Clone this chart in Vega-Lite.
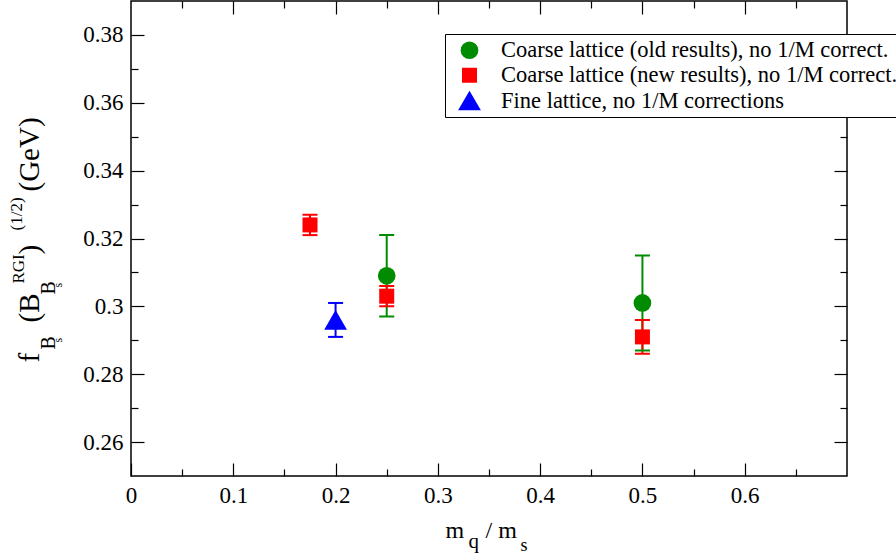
{
  "$schema": "https://vega.github.io/schema/vega-lite/v6.json",
  "width": 716,
  "height": 475,
  "autosize": {"type": "none"},
  "padding": {"left": 131, "top": 1, "right": 49, "bottom": 80},
  "background": "white",
  "data": {"values": [
    {"series": "Coarse lattice (old results), no 1/M correct.", "x": 0.25, "y": 0.309, "lo": 0.297, "hi": 0.321},
    {"series": "Coarse lattice (old results), no 1/M correct.", "x": 0.5, "y": 0.301, "lo": 0.287, "hi": 0.315},
    {"series": "Coarse lattice (new results), no 1/M correct.", "x": 0.175, "y": 0.324, "lo": 0.321, "hi": 0.327},
    {"series": "Coarse lattice (new results), no 1/M correct.", "x": 0.25, "y": 0.303, "lo": 0.300, "hi": 0.306},
    {"series": "Coarse lattice (new results), no 1/M correct.", "x": 0.5, "y": 0.291, "lo": 0.286, "hi": 0.296},
    {"series": "Fine lattice, no 1/M corrections", "x": 0.2, "y": 0.296, "lo": 0.291, "hi": 0.301}
  ]},
  "resolve": {"axis": {"x": "independent", "y": "independent"}},
  "layer": [
    {
      "mark": {"type": "rule", "strokeWidth": 2},
      "encoding": {
        "x": {"field": "x", "type": "quantitative", "scale": {"domain": [0, 0.7], "nice": false, "zero": false}, "axis": null},
        "y": {"field": "lo", "type": "quantitative", "scale": {"domain": [0.25, 0.39], "nice": false, "zero": false}, "axis": null},
        "y2": {"field": "hi"},
        "stroke": {"field": "series", "type": "nominal", "scale": {"domain": ["Fine lattice, no 1/M corrections", "Coarse lattice (new results), no 1/M correct.", "Coarse lattice (old results), no 1/M correct."], "range": ["#0000ff", "#ff0000", "#008b00"]}, "legend": null}
      }
    },
    {
      "mark": {"type": "tick", "orient": "horizontal", "size": 15, "thickness": 2, "opacity": 1},
      "encoding": {
        "x": {"field": "x", "type": "quantitative", "scale": {"domain": [0, 0.7], "nice": false, "zero": false}, "axis": null},
        "y": {"field": "lo", "type": "quantitative", "scale": {"domain": [0.25, 0.39], "nice": false, "zero": false}, "axis": null},
        "fill": {"field": "series", "type": "nominal", "scale": {"domain": ["Coarse lattice (new results), no 1/M correct.", "Fine lattice, no 1/M corrections", "Coarse lattice (old results), no 1/M correct."], "range": ["#ff0000", "#0000ff", "#008b00"]}, "legend": null}
      }
    },
    {
      "mark": {"type": "tick", "orient": "horizontal", "size": 15, "thickness": 2, "opacity": 1},
      "encoding": {
        "x": {"field": "x", "type": "quantitative", "scale": {"domain": [0, 0.7], "nice": false, "zero": false}, "axis": null},
        "y": {"field": "hi", "type": "quantitative", "scale": {"domain": [0.25, 0.39], "nice": false, "zero": false}, "axis": null},
        "fill": {"field": "series", "type": "nominal", "scale": {"domain": ["Coarse lattice (new results), no 1/M correct.", "Fine lattice, no 1/M corrections", "Coarse lattice (old results), no 1/M correct."], "range": ["#ff0000", "#0000ff", "#008b00"]}, "legend": null}
      }
    },
    {
      "mark": {"type": "point", "filled": true, "opacity": 1, "strokeWidth": 0},
      "encoding": {
        "x": {"field": "x", "type": "quantitative", "scale": {"domain": [0, 0.7], "nice": false, "zero": false}, "axis": null},
        "y": {"field": "y", "type": "quantitative", "scale": {"domain": [0.25, 0.39], "nice": false, "zero": false}, "axis": null},
        "color": {"field": "series", "type": "nominal", "scale": {"domain": ["Coarse lattice (old results), no 1/M correct.", "Coarse lattice (new results), no 1/M correct.", "Fine lattice, no 1/M corrections"], "range": ["#008b00", "#ff0000", "#0000ff"]},
                  "legend": {"orient": "none", "legendX": 314, "legendY": 33, "title": null}},
        "shape": {"field": "series", "type": "nominal", "scale": {"domain": ["Coarse lattice (old results), no 1/M correct.", "Coarse lattice (new results), no 1/M correct.", "Fine lattice, no 1/M corrections"], "range": ["circle", "square", "triangle-up"]},
                  "legend": {"orient": "none", "legendX": 314, "legendY": 33, "title": null}},
        "size": {"field": "series", "type": "nominal", "scale": {"type": "ordinal", "domain": ["Coarse lattice (old results), no 1/M correct.", "Coarse lattice (new results), no 1/M correct.", "Fine lattice, no 1/M corrections"], "range": [313, 225, 520]},
                  "legend": {"orient": "none", "legendX": 314, "legendY": 33, "title": null}}
      }
    },
    {
      "mark": {"type": "point", "opacity": 0},
      "encoding": {
        "x": {"field": "x", "type": "quantitative", "scale": {"domain": [0, 0.7], "nice": false, "zero": false},
              "axis": {"orient": "bottom", "values": [0, 0.1, 0.2, 0.3, 0.4, 0.5, 0.6], "format": ".1~f", "tickSize": -13, "labelPadding": 21, "labelFlush": false, "labelFontSize": 23, "labelFont": "Liberation Serif",
                       "title": "m", "titleX": 314, "titleY": 61, "titleFontSize": 24, "titleAngle": 0, "titleAlign": "left", "titleBaseline": "alphabetic"}},
        "y": {"field": "y", "type": "quantitative", "scale": {"domain": [0.25, 0.39], "nice": false, "zero": false},
              "axis": {"orient": "left", "values": [0.26, 0.28, 0.3, 0.32, 0.34, 0.36, 0.38], "format": ".2~f", "tickSize": -13, "labelPadding": 21, "labelFontSize": 23, "labelFont": "Liberation Serif",
                       "title": "f", "titleX": -93, "titleY": 361, "titleFontSize": 29, "titleAngle": 270, "titleAlign": "left", "titleBaseline": "alphabetic"}}
      }
    },
    {
      "mark": {"type": "point", "opacity": 0},
      "encoding": {
        "x": {"field": "x", "type": "quantitative", "scale": {"domain": [0, 0.7], "nice": false, "zero": false},
              "axis": {"orient": "bottom", "values": [0.05, 0.15, 0.25, 0.35, 0.45, 0.55, 0.65], "tickSize": -7, "labels": false,
                       "title": "q", "titleX": 337, "titleY": 71, "titleFontSize": 21, "titleAngle": 0, "titleAlign": "left", "titleBaseline": "alphabetic"}},
        "y": {"field": "y", "type": "quantitative", "scale": {"domain": [0.25, 0.39], "nice": false, "zero": false},
              "axis": {"orient": "left", "values": [0.27, 0.29, 0.31, 0.33, 0.35, 0.37], "tickSize": -7, "labels": false,
                       "title": "B", "titleX": -77, "titleY": 348, "titleFontSize": 20, "titleAngle": 270, "titleAlign": "left", "titleBaseline": "alphabetic"}}
      }
    },
    {
      "mark": {"type": "point", "opacity": 0},
      "encoding": {
        "x": {"field": "x", "type": "quantitative", "scale": {"domain": [0, 0.7], "nice": false, "zero": false},
              "axis": {"orient": "top", "values": [0.1, 0.2, 0.3, 0.4, 0.5, 0.6], "tickSize": -13, "labels": false, "title": null}},
        "y": {"field": "y", "type": "quantitative", "scale": {"domain": [0.25, 0.39], "nice": false, "zero": false},
              "axis": {"orient": "right", "values": [0.26, 0.28, 0.3, 0.32, 0.34, 0.36, 0.38], "tickSize": -13, "labels": false, "title": null}}
      }
    },
    {
      "mark": {"type": "point", "opacity": 0},
      "encoding": {
        "x": {"field": "x", "type": "quantitative", "scale": {"domain": [0, 0.7], "nice": false, "zero": false},
              "axis": {"orient": "top", "values": [0.05, 0.15, 0.25, 0.35, 0.45, 0.55, 0.65], "tickSize": -7, "labels": false, "title": null}},
        "y": {"field": "y", "type": "quantitative", "scale": {"domain": [0.25, 0.39], "nice": false, "zero": false},
              "axis": {"orient": "right", "values": [0.27, 0.29, 0.31, 0.33, 0.35, 0.37], "tickSize": -7, "labels": false, "title": null}}
      }
    },
    {
      "mark": {"type": "point", "opacity": 0},
      "encoding": {
        "x": {"field": "x", "type": "quantitative", "scale": {"domain": [0, 0.7], "nice": false, "zero": false},
              "axis": {"orient": "bottom", "ticks": false, "labels": false,
                       "title": "/ m", "titleX": 354, "titleY": 61, "titleFontSize": 24, "titleAngle": 0, "titleAlign": "left", "titleBaseline": "alphabetic"}},
        "y": {"field": "y", "type": "quantitative", "scale": {"domain": [0.25, 0.39], "nice": false, "zero": false},
              "axis": {"orient": "left", "ticks": false, "labels": false,
                       "title": "s", "titleX": -70, "titleY": 341, "titleFontSize": 12, "titleAngle": 270, "titleAlign": "left", "titleBaseline": "alphabetic"}}
      }
    },
    {
      "mark": {"type": "point", "opacity": 0},
      "encoding": {
        "x": {"field": "x", "type": "quantitative", "scale": {"domain": [0, 0.7], "nice": false, "zero": false},
              "axis": {"orient": "bottom", "ticks": false, "labels": false,
                       "title": "s", "titleX": 389, "titleY": 74, "titleFontSize": 18, "titleAngle": 0, "titleAlign": "left", "titleBaseline": "alphabetic"}},
        "y": {"field": "y", "type": "quantitative", "scale": {"domain": [0.25, 0.39], "nice": false, "zero": false},
              "axis": {"orient": "left", "ticks": false, "labels": false,
                       "title": "(B", "titleX": -93, "titleY": 321, "titleFontSize": 29, "titleAngle": 270, "titleAlign": "left", "titleBaseline": "alphabetic"}}
      }
    },
    {
      "mark": {"type": "point", "opacity": 0},
      "encoding": {
        "x": {"field": "x", "type": "quantitative", "scale": {"domain": [0, 0.7], "nice": false, "zero": false}, "axis": null},
        "y": {"field": "y", "type": "quantitative", "scale": {"domain": [0.25, 0.39], "nice": false, "zero": false},
              "axis": {"orient": "left", "ticks": false, "labels": false,
                       "title": "B", "titleX": -77, "titleY": 293, "titleFontSize": 20, "titleAngle": 270, "titleAlign": "left", "titleBaseline": "alphabetic"}}
      }
    },
    {
      "mark": {"type": "point", "opacity": 0},
      "encoding": {
        "x": {"field": "x", "type": "quantitative", "scale": {"domain": [0, 0.7], "nice": false, "zero": false}, "axis": null},
        "y": {"field": "y", "type": "quantitative", "scale": {"domain": [0.25, 0.39], "nice": false, "zero": false},
              "axis": {"orient": "left", "ticks": false, "labels": false,
                       "title": "s", "titleX": -70, "titleY": 286, "titleFontSize": 12, "titleAngle": 270, "titleAlign": "left", "titleBaseline": "alphabetic"}}
      }
    },
    {
      "mark": {"type": "point", "opacity": 0},
      "encoding": {
        "x": {"field": "x", "type": "quantitative", "scale": {"domain": [0, 0.7], "nice": false, "zero": false}, "axis": null},
        "y": {"field": "y", "type": "quantitative", "scale": {"domain": [0.25, 0.39], "nice": false, "zero": false},
              "axis": {"orient": "left", "ticks": false, "labels": false,
                       "title": "RGI", "titleX": -108, "titleY": 282, "titleFontSize": 17, "titleAngle": 270, "titleAlign": "left", "titleBaseline": "alphabetic"}}
      }
    },
    {
      "mark": {"type": "point", "opacity": 0},
      "encoding": {
        "x": {"field": "x", "type": "quantitative", "scale": {"domain": [0, 0.7], "nice": false, "zero": false}, "axis": null},
        "y": {"field": "y", "type": "quantitative", "scale": {"domain": [0.25, 0.39], "nice": false, "zero": false},
              "axis": {"orient": "left", "ticks": false, "labels": false,
                       "title": ")", "titleX": -93, "titleY": 253, "titleFontSize": 29, "titleAngle": 270, "titleAlign": "left", "titleBaseline": "alphabetic"}}
      }
    },
    {
      "mark": {"type": "point", "opacity": 0},
      "encoding": {
        "x": {"field": "x", "type": "quantitative", "scale": {"domain": [0, 0.7], "nice": false, "zero": false}, "axis": null},
        "y": {"field": "y", "type": "quantitative", "scale": {"domain": [0.25, 0.39], "nice": false, "zero": false},
              "axis": {"orient": "left", "ticks": false, "labels": false,
                       "title": "(1/2)", "titleX": -110, "titleY": 229, "titleFontSize": 17, "titleAngle": 270, "titleAlign": "left", "titleBaseline": "alphabetic"}}
      }
    },
    {
      "mark": {"type": "point", "opacity": 0},
      "encoding": {
        "x": {"field": "x", "type": "quantitative", "scale": {"domain": [0, 0.7], "nice": false, "zero": false}, "axis": null},
        "y": {"field": "y", "type": "quantitative", "scale": {"domain": [0.25, 0.39], "nice": false, "zero": false},
              "axis": {"orient": "left", "ticks": false, "labels": false,
                       "title": "(GeV)", "titleX": -93, "titleY": 190, "titleFontSize": 29, "titleAngle": 270, "titleAlign": "left", "titleBaseline": "alphabetic"}}
      }
    }
  ],
  "config": {
    "view": {"stroke": "black", "strokeWidth": 1.5},
    "axis": {
      "domain": false, "grid": false,
      "labelFont": "Liberation Serif", "titleFont": "Liberation Serif",
      "labelColor": "black", "titleColor": "black", "titleFontWeight": "normal",
      "tickColor": "black", "tickWidth": 1.2
    },
    "legend": {
      "labelFont": "Liberation Serif", "labelFontSize": 22.5, "labelColor": "black", "labelLimit": 1000,
      "strokeColor": "black", "fillColor": "white", "padding": 5, "symbolOffset": 8, "labelOffset": 20, "rowPadding": 2,
      "symbolOpacity": 1, "symbolStrokeWidth": 0
    }
  }
}
